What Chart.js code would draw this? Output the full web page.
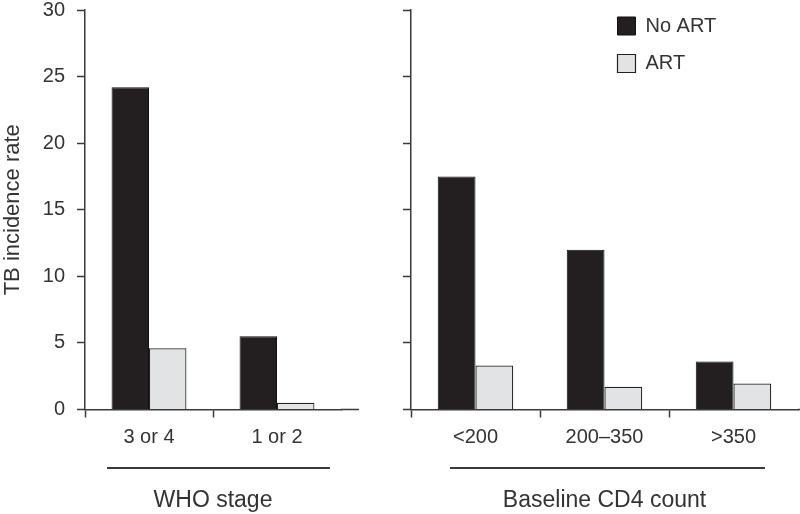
<!DOCTYPE html>
<html>
<head>
<meta charset="utf-8">
<script src="https://cdn.jsdelivr.net/npm/chart.js@4/dist/chart.umd.min.js"></script>
<style>
  html, body { margin: 0; padding: 0; background: #fff; }
  #wrap { position: relative; width: 800px; height: 514px; }
  #wrap canvas { position: absolute; left: 0; top: 0; }
</style>
</head>
<body>
<div id="wrap">
  <canvas id="left" width="800" height="514"></canvas>
  <canvas id="right" width="800" height="514"></canvas>
</div>
<script>
// data
const whoLabels = ['3 or 4', '1 or 2'];
const whoNoArt = [24.2, 5.5];
const whoArt = [4.6, 0.5];

const cd4Labels = ['<200', '200–350', '>350'];
const cd4NoArt = [17.5, 12.0, 3.6];
const cd4Art = [3.3, 1.7, 1.95];

const yTicks = [0, 5, 10, 15, 20, 25, 30];

Chart.defaults.font.family = '"Liberation Sans", Arial, sans-serif';
Chart.defaults.color = '#333';

const INK = '#3a3a3a';
const BLACK = '#231f20';
const GREY = '#e2e3e5';

// draws the bit of baseline past the last category and the rule above the group title
const groupRule = {
  id: 'groupRule',
  afterDraw(chart, args, opts) {
    const { ctx, chartArea } = chart;
    ctx.save();
    ctx.strokeStyle = INK;
    ctx.lineWidth = 1.5;
    ctx.beginPath();
    ctx.moveTo(chartArea.right, chartArea.bottom);
    ctx.lineTo(chartArea.right + opts.extend, chartArea.bottom);
    ctx.stroke();
    ctx.lineWidth = 2;
    ctx.beginPath();
    ctx.moveTo(chartArea.left + opts.from, chartArea.bottom + opts.dy);
    ctx.lineTo(chartArea.left + opts.to, chartArea.bottom + opts.dy);
    ctx.stroke();
    ctx.restore();
  }
};

// moves the legend into the upper right of the panel
const legendShift = {
  id: 'legendShift',
  afterLayout(chart, args, opts) {
    const lg = chart.legend;
    if (!lg || !opts.dx) return;
    lg.left += opts.dx; lg.right += opts.dx;
    lg.top += opts.dy; lg.bottom += opts.dy;
  }
};

function makeDatasets(noArt, art) {
  return [
    { label: 'No ART', data: noArt, backgroundColor: BLACK, borderColor: '#111', borderWidth: 1 },
    { label: 'ART', data: art, backgroundColor: GREY, borderColor: '#222', borderWidth: 1.2 }
  ];
}

function makeOptions(cfg) {
  return {
    responsive: false,
    animation: false,
    layout: { padding: cfg.padding },
    datasets: { bar: { categoryPercentage: 0.585, barPercentage: 1.0 } },
    scales: {
      x: {
        type: 'category',
        offset: true,
        grid: {
          offset: true,
          drawOnChartArea: false,
          drawTicks: true,
          tickLength: 8,
          tickWidth: 1.5,
          tickColor: ctx => ctx.index === undefined ? 'rgba(0,0,0,0)' : INK
        },
        border: { display: true, color: INK, width: 1.5 },
        ticks: { font: { size: 20 }, padding: 8, color: '#333', maxRotation: 0 },
        title: {
          display: true,
          text: cfg.groupTitle,
          font: { size: 23 },
          color: '#333',
          padding: { top: 34, bottom: 0 }
        },
        afterFit: s => { s.height = 104.5; }
      },
      y: {
        min: 0,
        max: 30,
        afterBuildTicks: s => { s.ticks = yTicks.map(v => ({ value: v })); },
        grid: { drawOnChartArea: false, drawTicks: true, tickLength: 8, tickWidth: 1.5, tickColor: INK },
        border: { display: true, color: INK, width: 1.5 },
        ticks: { display: cfg.showY, font: { size: 20, lineHeight: 1 }, padding: 12, color: '#333' },
        title: {
          display: cfg.showY,
          text: 'TB incidence rate',
          font: { size: 22 },
          color: '#333',
          padding: 0
        },
        afterFit: s => {
          s.width = cfg.yWidth;
          s.paddingTop = 0;
          s.paddingBottom = 0;
        }
      }
    },
    plugins: {
      tooltip: { enabled: false },
      legend: {
        display: cfg.legend,
        position: 'chartArea',
        align: 'start',
        labels: {
          boxWidth: 18,
          boxHeight: 18,
          padding: 17.5,
          font: { size: 20 },
          color: '#333'
        }
      },
      legendShift: cfg.legendShift,
      groupRule: cfg.rule
    }
  };
}

new Chart(document.getElementById('left'), {
  type: 'bar',
  data: { labels: whoLabels, datasets: makeDatasets(whoNoArt, whoArt) },
  options: makeOptions({
    padding: { left: 0, top: 10, right: 459, bottom: 0 },
    groupTitle: 'WHO stage',
    showY: true,
    yWidth: 85,
    legend: false,
    legendShift: { dx: 0, dy: 0 },
    rule: { extend: 18, from: 22, to: 245, dy: 58.5 }
  }),
  plugins: [groupRule, legendShift]
});

new Chart(document.getElementById('right'), {
  type: 'bar',
  data: { labels: cd4Labels, datasets: makeDatasets(cd4NoArt, cd4Art) },
  options: makeOptions({
    padding: { left: 403, top: 10, right: 2, bottom: 0 },
    groupTitle: 'Baseline CD4 count',
    showY: false,
    yWidth: 8,
    legend: true,
    legendShift: { dx: 189, dy: -1.5 },
    rule: { extend: 2, from: 39, to: 354, dy: 58.5 }
  }),
  plugins: [groupRule, legendShift]
});
</script>
</body>
</html>
